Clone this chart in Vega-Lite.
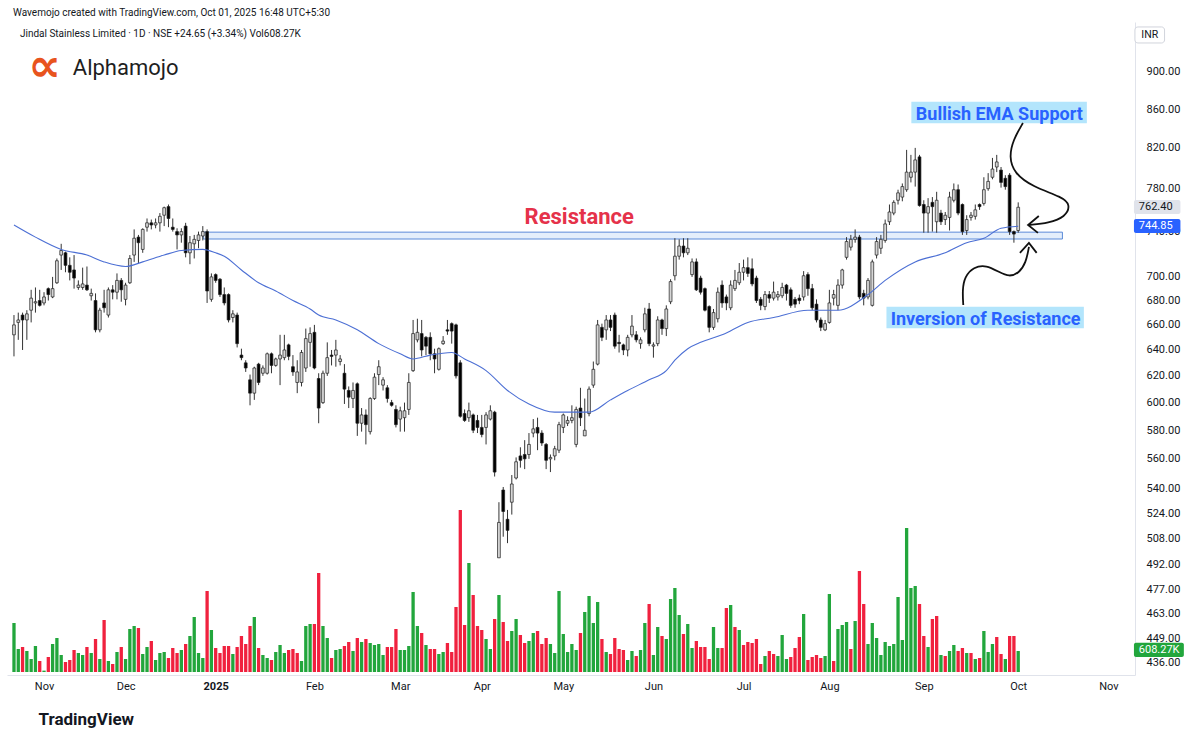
{
"$schema": "https://vega.github.io/schema/vega-lite/v6.json",
"width": 1128, "height": 653,
"autosize": {"type": "none"},
"padding": {"left": 7, "top": 22, "right": 65, "bottom": 67},
"background": "#ffffff",
"config": {"view": {"stroke": null}, "font": "Roboto",
 "axisRight": {"labelFont": "Roboto", "labelFontSize": 11, "labelColor": "#131722", "ticks": false, "tickSize": 0, "labelPadding": 11, "grid": false, "domain": true, "domainColor": "#e0e3eb", "title": null, "labelOverlap": false, "labelFlush": false}},
"datasets": {
"candles": [
{"i":0,"o":652,"h":668,"l":635,"c":660,"v":1421,"vc":"G"},
{"i":1,"o":662,"h":670,"l":648,"c":664,"v":667,"vc":"G"},
{"i":2,"o":668,"h":670,"l":640,"c":664,"v":725,"vc":"R"},
{"i":3,"o":664,"h":672,"l":648,"c":669,"v":609,"vc":"G"},
{"i":4,"o":672,"h":689,"l":662,"c":682,"v":377,"vc":"G"},
{"i":5,"o":678,"h":691,"l":670,"c":679,"v":754,"vc":"G"},
{"i":6,"o":680,"h":689,"l":675,"c":676,"v":319,"vc":"R"},
{"i":7,"o":678,"h":687,"l":676,"c":683,"v":40,"vc":"G"},
{"i":8,"o":690,"h":691,"l":680,"c":685,"v":435,"vc":"R"},
{"i":9,"o":683,"h":700,"l":682,"c":690,"v":812,"vc":"G"},
{"i":10,"o":695,"h":716,"l":694,"c":714,"v":986,"vc":"G"},
{"i":11,"o":719,"h":729,"l":706,"c":723,"v":493,"vc":"G"},
{"i":12,"o":721,"h":722,"l":704,"c":710,"v":290,"vc":"R"},
{"i":13,"o":710,"h":717,"l":697,"c":704,"v":348,"vc":"R"},
{"i":14,"o":706,"h":719,"l":690,"c":699,"v":638,"vc":"R"},
{"i":15,"o":691,"h":697,"l":689,"c":693,"v":551,"vc":"G"},
{"i":16,"o":691,"h":708,"l":689,"c":694,"v":493,"vc":"G"},
{"i":17,"o":693,"h":709,"l":688,"c":689,"v":725,"vc":"R"},
{"i":18,"o":684,"h":690,"l":680,"c":686,"v":551,"vc":"G"},
{"i":19,"o":680,"h":686,"l":654,"c":656,"v":957,"vc":"R"},
{"i":20,"o":656,"h":674,"l":654,"c":672,"v":377,"vc":"G"},
{"i":21,"o":678,"h":689,"l":670,"c":674,"v":1508,"vc":"R"},
{"i":22,"o":668,"h":691,"l":666,"c":689,"v":319,"vc":"G"},
{"i":23,"o":689,"h":693,"l":681,"c":687,"v":232,"vc":"R"},
{"i":24,"o":687,"h":703,"l":681,"c":697,"v":580,"vc":"G"},
{"i":25,"o":697,"h":699,"l":679,"c":689,"v":725,"vc":"R"},
{"i":26,"o":681,"h":695,"l":676,"c":693,"v":377,"vc":"G"},
{"i":27,"o":695,"h":719,"l":694,"c":716,"v":1247,"vc":"G"},
{"i":28,"o":719,"h":742,"l":713,"c":734,"v":1334,"vc":"G"},
{"i":29,"o":735,"h":737,"l":712,"c":730,"v":1276,"vc":"R"},
{"i":30,"o":724,"h":743,"l":721,"c":742,"v":522,"vc":"G"},
{"i":31,"o":744,"h":752,"l":740,"c":748,"v":725,"vc":"G"},
{"i":32,"o":748,"h":751,"l":742,"c":746,"v":899,"vc":"R"},
{"i":33,"o":746,"h":752,"l":743,"c":748,"v":348,"vc":"G"},
{"i":34,"o":748,"h":757,"l":740,"c":754,"v":551,"vc":"G"},
{"i":35,"o":755,"h":763,"l":745,"c":762,"v":580,"vc":"G"},
{"i":36,"o":763,"h":765,"l":744,"c":752,"v":406,"vc":"R"},
{"i":37,"o":744,"h":752,"l":740,"c":742,"v":696,"vc":"R"},
{"i":38,"o":740,"h":743,"l":724,"c":737,"v":551,"vc":"R"},
{"i":39,"o":737,"h":743,"l":730,"c":740,"v":638,"vc":"G"},
{"i":40,"o":745,"h":748,"l":717,"c":721,"v":812,"vc":"R"},
{"i":41,"o":721,"h":736,"l":711,"c":730,"v":1044,"vc":"G"},
{"i":42,"o":729,"h":737,"l":716,"c":733,"v":1595,"vc":"G"},
{"i":43,"o":732,"h":740,"l":725,"c":737,"v":551,"vc":"G"},
{"i":44,"o":736,"h":745,"l":732,"c":740,"v":406,"vc":"G"},
{"i":45,"o":740,"h":742,"l":678,"c":688,"v":2349,"vc":"R"},
{"i":46,"o":681,"h":703,"l":679,"c":700,"v":1218,"vc":"G"},
{"i":47,"o":702,"h":703,"l":695,"c":697,"v":696,"vc":"R"},
{"i":48,"o":698,"h":699,"l":683,"c":685,"v":551,"vc":"R"},
{"i":49,"o":685,"h":691,"l":676,"c":678,"v":754,"vc":"R"},
{"i":50,"o":685,"h":686,"l":662,"c":664,"v":754,"vc":"R"},
{"i":51,"o":666,"h":672,"l":662,"c":669,"v":522,"vc":"G"},
{"i":52,"o":668,"h":670,"l":642,"c":645,"v":725,"vc":"R"},
{"i":53,"o":636,"h":641,"l":632,"c":634,"v":1044,"vc":"R"},
{"i":54,"o":630,"h":632,"l":623,"c":626,"v":812,"vc":"R"},
{"i":55,"o":617,"h":621,"l":598,"c":607,"v":1334,"vc":"R"},
{"i":56,"o":607,"h":627,"l":602,"c":626,"v":1595,"vc":"G"},
{"i":57,"o":629,"h":630,"l":613,"c":615,"v":696,"vc":"R"},
{"i":58,"o":622,"h":628,"l":620,"c":626,"v":493,"vc":"G"},
{"i":59,"o":622,"h":638,"l":621,"c":637,"v":406,"vc":"G"},
{"i":60,"o":637,"h":638,"l":622,"c":628,"v":348,"vc":"R"},
{"i":61,"o":628,"h":634,"l":627,"c":633,"v":580,"vc":"G"},
{"i":62,"o":633,"h":652,"l":613,"c":636,"v":783,"vc":"G"},
{"i":63,"o":634,"h":652,"l":632,"c":640,"v":551,"vc":"G"},
{"i":64,"o":644,"h":645,"l":632,"c":635,"v":638,"vc":"R"},
{"i":65,"o":627,"h":636,"l":620,"c":623,"v":667,"vc":"R"},
{"i":66,"o":615,"h":632,"l":607,"c":623,"v":551,"vc":"R"},
{"i":67,"o":615,"h":640,"l":612,"c":638,"v":319,"vc":"G"},
{"i":68,"o":626,"h":657,"l":623,"c":649,"v":1334,"vc":"G"},
{"i":69,"o":646,"h":658,"l":627,"c":653,"v":1392,"vc":"G"},
{"i":70,"o":654,"h":660,"l":625,"c":626,"v":1392,"vc":"R"},
{"i":71,"o":618,"h":622,"l":585,"c":596,"v":2871,"vc":"R"},
{"i":72,"o":600,"h":624,"l":599,"c":622,"v":1334,"vc":"G"},
{"i":73,"o":622,"h":646,"l":620,"c":634,"v":986,"vc":"G"},
{"i":74,"o":636,"h":640,"l":628,"c":635,"v":406,"vc":"R"},
{"i":75,"o":636,"h":648,"l":627,"c":640,"v":638,"vc":"G"},
{"i":76,"o":631,"h":636,"l":628,"c":633,"v":667,"vc":"G"},
{"i":77,"o":622,"h":629,"l":599,"c":610,"v":754,"vc":"R"},
{"i":78,"o":609,"h":612,"l":596,"c":604,"v":870,"vc":"R"},
{"i":79,"o":603,"h":615,"l":596,"c":609,"v":609,"vc":"G"},
{"i":80,"o":614,"h":615,"l":576,"c":585,"v":986,"vc":"R"},
{"i":81,"o":585,"h":596,"l":579,"c":591,"v":870,"vc":"G"},
{"i":82,"o":591,"h":595,"l":570,"c":584,"v":957,"vc":"R"},
{"i":83,"o":579,"h":604,"l":577,"c":603,"v":841,"vc":"G"},
{"i":84,"o":603,"h":622,"l":602,"c":619,"v":783,"vc":"G"},
{"i":85,"o":621,"h":632,"l":613,"c":627,"v":812,"vc":"G"},
{"i":86,"o":613,"h":619,"l":609,"c":617,"v":493,"vc":"G"},
{"i":87,"o":611,"h":613,"l":600,"c":603,"v":725,"vc":"R"},
{"i":88,"o":600,"h":602,"l":597,"c":598,"v":725,"vc":"R"},
{"i":89,"o":595,"h":598,"l":582,"c":584,"v":1247,"vc":"R"},
{"i":90,"o":588,"h":597,"l":579,"c":594,"v":638,"vc":"G"},
{"i":91,"o":589,"h":600,"l":579,"c":594,"v":638,"vc":"G"},
{"i":92,"o":595,"h":622,"l":591,"c":615,"v":754,"vc":"G"},
{"i":93,"o":624,"h":664,"l":623,"c":653,"v":2320,"vc":"G"},
{"i":94,"o":648,"h":665,"l":646,"c":654,"v":1334,"vc":"G"},
{"i":95,"o":653,"h":664,"l":635,"c":640,"v":1131,"vc":"R"},
{"i":96,"o":650,"h":651,"l":636,"c":643,"v":783,"vc":"G"},
{"i":97,"o":650,"h":654,"l":632,"c":637,"v":667,"vc":"R"},
{"i":98,"o":637,"h":641,"l":622,"c":633,"v":667,"vc":"R"},
{"i":99,"o":625,"h":642,"l":624,"c":641,"v":522,"vc":"G"},
{"i":100,"o":645,"h":651,"l":644,"c":647,"v":580,"vc":"G"},
{"i":101,"o":656,"h":664,"l":652,"c":655,"v":841,"vc":"R"},
{"i":102,"o":661,"h":662,"l":645,"c":655,"v":580,"vc":"R"},
{"i":103,"o":660,"h":661,"l":618,"c":620,"v":1885,"vc":"R"},
{"i":104,"o":630,"h":632,"l":589,"c":590,"v":4698,"vc":"R"},
{"i":105,"o":592,"h":595,"l":586,"c":587,"v":1363,"vc":"R"},
{"i":106,"o":589,"h":600,"l":586,"c":594,"v":3161,"vc":"G"},
{"i":107,"o":591,"h":592,"l":578,"c":580,"v":2233,"vc":"R"},
{"i":108,"o":587,"h":591,"l":578,"c":582,"v":1334,"vc":"R"},
{"i":109,"o":582,"h":591,"l":575,"c":577,"v":1218,"vc":"R"},
{"i":110,"o":582,"h":593,"l":570,"c":591,"v":957,"vc":"G"},
{"i":111,"o":588,"h":598,"l":587,"c":594,"v":667,"vc":"G"},
{"i":112,"o":593,"h":594,"l":548,"c":551,"v":1537,"vc":"R"},
{"i":113,"o":496,"h":531,"l":496,"c":518,"v":2233,"vc":"G"},
{"i":114,"o":539,"h":541,"l":509,"c":525,"v":1450,"vc":"R"},
{"i":115,"o":520,"h":526,"l":505,"c":513,"v":899,"vc":"R"},
{"i":116,"o":531,"h":549,"l":523,"c":543,"v":1189,"vc":"G"},
{"i":117,"o":547,"h":561,"l":546,"c":558,"v":1537,"vc":"G"},
{"i":118,"o":562,"h":568,"l":554,"c":559,"v":1073,"vc":"R"},
{"i":119,"o":563,"h":573,"l":553,"c":560,"v":841,"vc":"R"},
{"i":120,"o":563,"h":578,"l":560,"c":570,"v":899,"vc":"G"},
{"i":121,"o":578,"h":588,"l":575,"c":581,"v":1131,"vc":"G"},
{"i":122,"o":582,"h":589,"l":566,"c":578,"v":1189,"vc":"R"},
{"i":123,"o":578,"h":580,"l":569,"c":571,"v":812,"vc":"R"},
{"i":124,"o":570,"h":571,"l":553,"c":559,"v":986,"vc":"R"},
{"i":125,"o":560,"h":563,"l":551,"c":561,"v":812,"vc":"G"},
{"i":126,"o":562,"h":569,"l":559,"c":567,"v":551,"vc":"G"},
{"i":127,"o":566,"h":586,"l":564,"c":584,"v":2349,"vc":"G"},
{"i":128,"o":582,"h":592,"l":578,"c":591,"v":1102,"vc":"G"},
{"i":129,"o":585,"h":590,"l":583,"c":587,"v":580,"vc":"G"},
{"i":130,"o":587,"h":598,"l":585,"c":589,"v":812,"vc":"G"},
{"i":131,"o":570,"h":597,"l":568,"c":595,"v":638,"vc":"G"},
{"i":132,"o":596,"h":611,"l":583,"c":589,"v":1131,"vc":"R"},
{"i":133,"o":576,"h":603,"l":576,"c":580,"v":1740,"vc":"G"},
{"i":134,"o":592,"h":612,"l":590,"c":610,"v":2204,"vc":"G"},
{"i":135,"o":613,"h":631,"l":611,"c":625,"v":1421,"vc":"G"},
{"i":136,"o":629,"h":664,"l":628,"c":660,"v":2030,"vc":"G"},
{"i":137,"o":658,"h":661,"l":647,"c":650,"v":957,"vc":"R"},
{"i":138,"o":656,"h":668,"l":648,"c":664,"v":580,"vc":"G"},
{"i":139,"o":664,"h":668,"l":655,"c":658,"v":522,"vc":"R"},
{"i":140,"o":668,"h":670,"l":641,"c":643,"v":986,"vc":"R"},
{"i":141,"o":646,"h":652,"l":638,"c":645,"v":667,"vc":"R"},
{"i":142,"o":644,"h":645,"l":636,"c":640,"v":638,"vc":"R"},
{"i":143,"o":640,"h":652,"l":635,"c":650,"v":348,"vc":"G"},
{"i":144,"o":652,"h":668,"l":650,"c":659,"v":609,"vc":"G"},
{"i":145,"o":652,"h":655,"l":646,"c":648,"v":464,"vc":"R"},
{"i":146,"o":645,"h":650,"l":641,"c":648,"v":638,"vc":"G"},
{"i":147,"o":656,"h":674,"l":654,"c":669,"v":1421,"vc":"G"},
{"i":148,"o":673,"h":678,"l":643,"c":645,"v":1972,"vc":"R"},
{"i":149,"o":643,"h":646,"l":634,"c":644,"v":493,"vc":"G"},
{"i":150,"o":645,"h":667,"l":643,"c":664,"v":1305,"vc":"G"},
{"i":151,"o":664,"h":665,"l":652,"c":657,"v":1044,"vc":"R"},
{"i":152,"o":657,"h":676,"l":651,"c":673,"v":957,"vc":"G"},
{"i":153,"o":679,"h":698,"l":677,"c":696,"v":2117,"vc":"G"},
{"i":154,"o":701,"h":734,"l":697,"c":718,"v":2436,"vc":"G"},
{"i":155,"o":718,"h":733,"l":715,"c":727,"v":1653,"vc":"G"},
{"i":156,"o":727,"h":734,"l":717,"c":721,"v":1102,"vc":"R"},
{"i":157,"o":721,"h":734,"l":719,"c":725,"v":1392,"vc":"G"},
{"i":158,"o":702,"h":716,"l":700,"c":713,"v":696,"vc":"G"},
{"i":159,"o":713,"h":716,"l":688,"c":689,"v":899,"vc":"R"},
{"i":160,"o":699,"h":701,"l":685,"c":687,"v":725,"vc":"R"},
{"i":161,"o":690,"h":691,"l":671,"c":672,"v":725,"vc":"R"},
{"i":162,"o":675,"h":676,"l":654,"c":658,"v":377,"vc":"R"},
{"i":163,"o":658,"h":673,"l":656,"c":670,"v":1305,"vc":"G"},
{"i":164,"o":665,"h":691,"l":662,"c":687,"v":696,"vc":"G"},
{"i":165,"o":693,"h":697,"l":674,"c":678,"v":696,"vc":"R"},
{"i":166,"o":683,"h":685,"l":672,"c":678,"v":1856,"vc":"R"},
{"i":167,"o":674,"h":697,"l":672,"c":693,"v":1943,"vc":"G"},
{"i":168,"o":690,"h":706,"l":688,"c":697,"v":1305,"vc":"R"},
{"i":169,"o":695,"h":712,"l":693,"c":704,"v":1218,"vc":"G"},
{"i":170,"o":704,"h":715,"l":697,"c":708,"v":783,"vc":"R"},
{"i":171,"o":708,"h":717,"l":700,"c":703,"v":870,"vc":"R"},
{"i":172,"o":707,"h":716,"l":692,"c":694,"v":841,"vc":"R"},
{"i":173,"o":699,"h":701,"l":678,"c":680,"v":957,"vc":"R"},
{"i":174,"o":681,"h":683,"l":672,"c":676,"v":232,"vc":"R"},
{"i":175,"o":675,"h":688,"l":672,"c":685,"v":464,"vc":"G"},
{"i":176,"o":685,"h":688,"l":678,"c":682,"v":609,"vc":"R"},
{"i":177,"o":682,"h":696,"l":680,"c":687,"v":522,"vc":"R"},
{"i":178,"o":683,"h":688,"l":680,"c":685,"v":464,"vc":"G"},
{"i":179,"o":684,"h":695,"l":682,"c":691,"v":1073,"vc":"G"},
{"i":180,"o":693,"h":694,"l":680,"c":686,"v":377,"vc":"G"},
{"i":181,"o":689,"h":691,"l":674,"c":676,"v":435,"vc":"R"},
{"i":182,"o":681,"h":683,"l":674,"c":677,"v":696,"vc":"R"},
{"i":183,"o":682,"h":685,"l":677,"c":680,"v":1015,"vc":"R"},
{"i":184,"o":683,"h":705,"l":680,"c":701,"v":1682,"vc":"G"},
{"i":185,"o":702,"h":704,"l":684,"c":690,"v":348,"vc":"R"},
{"i":186,"o":690,"h":694,"l":672,"c":674,"v":435,"vc":"R"},
{"i":187,"o":677,"h":681,"l":662,"c":664,"v":493,"vc":"R"},
{"i":188,"o":664,"h":666,"l":655,"c":658,"v":406,"vc":"R"},
{"i":189,"o":656,"h":664,"l":655,"c":661,"v":464,"vc":"G"},
{"i":190,"o":662,"h":689,"l":661,"c":678,"v":2262,"vc":"G"},
{"i":191,"o":682,"h":689,"l":676,"c":685,"v":319,"vc":"R"},
{"i":192,"o":676,"h":698,"l":672,"c":693,"v":1247,"vc":"G"},
{"i":193,"o":693,"h":707,"l":690,"c":706,"v":1363,"vc":"G"},
{"i":194,"o":717,"h":735,"l":715,"c":731,"v":1450,"vc":"G"},
{"i":195,"o":726,"h":737,"l":723,"c":733,"v":667,"vc":"R"},
{"i":196,"o":733,"h":742,"l":730,"c":735,"v":1479,"vc":"G"},
{"i":197,"o":735,"h":737,"l":681,"c":683,"v":2929,"vc":"R"},
{"i":198,"o":686,"h":689,"l":676,"c":682,"v":1972,"vc":"R"},
{"i":199,"o":683,"h":699,"l":681,"c":697,"v":812,"vc":"G"},
{"i":200,"o":676,"h":715,"l":675,"c":713,"v":1421,"vc":"G"},
{"i":201,"o":719,"h":735,"l":716,"c":731,"v":986,"vc":"G"},
{"i":202,"o":725,"h":737,"l":720,"c":733,"v":493,"vc":"G"},
{"i":203,"o":732,"h":751,"l":730,"c":747,"v":870,"vc":"G"},
{"i":204,"o":749,"h":765,"l":746,"c":758,"v":754,"vc":"G"},
{"i":205,"o":757,"h":769,"l":755,"c":767,"v":812,"vc":"G"},
{"i":206,"o":769,"h":779,"l":765,"c":776,"v":2175,"vc":"G"},
{"i":207,"o":772,"h":785,"l":768,"c":782,"v":928,"vc":"G"},
{"i":208,"o":779,"h":818,"l":777,"c":796,"v":4176,"vc":"G"},
{"i":209,"o":791,"h":813,"l":786,"c":796,"v":2436,"vc":"G"},
{"i":210,"o":796,"h":820,"l":782,"c":808,"v":2494,"vc":"G"},
{"i":211,"o":811,"h":813,"l":763,"c":764,"v":1972,"vc":"R"},
{"i":212,"o":765,"h":769,"l":739,"c":757,"v":1044,"vc":"R"},
{"i":213,"o":757,"h":771,"l":739,"c":763,"v":725,"vc":"G"},
{"i":214,"o":767,"h":772,"l":740,"c":763,"v":1537,"vc":"R"},
{"i":215,"o":749,"h":777,"l":739,"c":769,"v":1624,"vc":"R"},
{"i":216,"o":757,"h":760,"l":746,"c":749,"v":493,"vc":"G"},
{"i":217,"o":751,"h":758,"l":746,"c":755,"v":464,"vc":"R"},
{"i":218,"o":753,"h":777,"l":741,"c":772,"v":609,"vc":"G"},
{"i":219,"o":769,"h":785,"l":767,"c":779,"v":783,"vc":"G"},
{"i":220,"o":779,"h":784,"l":755,"c":757,"v":609,"vc":"R"},
{"i":221,"o":765,"h":766,"l":737,"c":740,"v":696,"vc":"R"},
{"i":222,"o":741,"h":755,"l":737,"c":751,"v":551,"vc":"G"},
{"i":223,"o":753,"h":758,"l":750,"c":755,"v":551,"vc":"R"},
{"i":224,"o":754,"h":765,"l":751,"c":760,"v":377,"vc":"G"},
{"i":225,"o":765,"h":766,"l":760,"c":763,"v":406,"vc":"R"},
{"i":226,"o":766,"h":791,"l":764,"c":779,"v":1189,"vc":"G"},
{"i":227,"o":780,"h":795,"l":778,"c":787,"v":580,"vc":"G"},
{"i":228,"o":791,"h":810,"l":789,"c":799,"v":812,"vc":"G"},
{"i":229,"o":801,"h":813,"l":796,"c":806,"v":1015,"vc":"R"},
{"i":230,"o":798,"h":801,"l":781,"c":786,"v":522,"vc":"R"},
{"i":231,"o":790,"h":793,"l":779,"c":782,"v":377,"vc":"G"},
{"i":232,"o":793,"h":795,"l":737,"c":740,"v":1044,"vc":"R"},
{"i":233,"o":740,"h":741,"l":730,"c":737.75,"v":1044,"vc":"R"},
{"i":234,"o":741,"h":767,"l":739,"c":762.4,"v":608.27,"vc":"G"}
],
"ema": [
{"i":0,"p":746},{"i":5,"p":735},{"i":11,"p":724},{"i":17,"p":719},{"i":21,"p":713},{"i":26,"p":709},{"i":30,"p":713},{"i":35,"p":719},{"i":39,"p":723},{"i":44,"p":724},{"i":47,"p":721},{"i":49,"p":718},{"i":53,"p":706},{"i":57,"p":695},{"i":61,"p":688},{"i":65,"p":680},{"i":69,"p":673},{"i":71,"p":668},{"i":75,"p":664},{"i":80,"p":656},{"i":85,"p":645},{"i":90,"p":637},{"i":93,"p":633},{"i":97,"p":636},{"i":102,"p":638},{"i":105,"p":633},{"i":110,"p":624},{"i":115,"p":609},{"i":120,"p":599},{"i":126,"p":593},{"i":134,"p":593},{"i":139,"p":602},{"i":143,"p":609},{"i":148,"p":617},{"i":152,"p":624},{"i":154,"p":632},{"i":157,"p":641},{"i":160,"p":646},{"i":165,"p":652},{"i":171,"p":662},{"i":177,"p":666},{"i":185,"p":672},{"i":192,"p":672},{"i":199,"p":685},{"i":203,"p":697},{"i":210,"p":713},{"i":217,"p":721},{"i":222,"p":730},{"i":226,"p":734},{"i":230,"p":743},{"i":234,"p":744.85}
],
"curves": [
{"g":"a1","k":1,"i":235.1,"p":845.4},{"g":"a1","k":2,"i":232.8,"p":828.0},{"g":"a1","k":3,"i":231.9,"p":810.9},{"g":"a1","k":4,"i":233.0,"p":795.2},{"g":"a1","k":5,"i":237.4,"p":781.6},{"g":"a1","k":6,"i":244.3,"p":772.1},{"g":"a1","k":7,"i":246.2,"p":764.6},{"g":"a1","k":8,"i":245.0,"p":753.4},{"g":"a1","k":9,"i":241.1,"p":747.9},{"g":"a1","k":10,"i":236.5,"p":746.0},
{"g":"a2","k":1,"i":221.2,"p":676.3},{"g":"a2","k":2,"i":221.0,"p":688.9},{"g":"a2","k":3,"i":221.5,"p":700.0},{"g":"a2","k":4,"i":223.6,"p":708.6},{"g":"a2","k":5,"i":226.6,"p":710.3},{"g":"a2","k":6,"i":229.6,"p":704.0},{"g":"a2","k":7,"i":231.9,"p":700.0},{"g":"a2","k":8,"i":234.2,"p":703.4},{"g":"a2","k":9,"i":235.8,"p":712.1},{"g":"a2","k":10,"i":236.5,"p":726.2}
],
"heads": [
{"g":"h1","k":1,"i":238.8,"p":754.3},{"g":"h1","k":2,"i":236.3,"p":746.0},{"g":"h1","k":3,"i":238.6,"p":738.8},
{"g":"h2","k":1,"i":234.4,"p":720.9},{"g":"h2","k":2,"i":236.5,"p":729.8},{"g":"h2","k":3,"i":238.3,"p":720.9}
]
},
"encoding": {
"x": {"field": "i", "type": "quantitative",
 "scale": {"domain": [-0.462, 260.05], "nice": false, "zero": false},
 "axis": {"values": [7,26,47,70,90,109,128,149,170,190,212,234,255],
  "labelExpr": "datum.value==7?'Nov':datum.value==26?'Dec':datum.value==47?'2025':datum.value==70?'Feb':datum.value==90?'Mar':datum.value==109?'Apr':datum.value==128?'May':datum.value==149?'Jun':datum.value==170?'Jul':datum.value==190?'Aug':datum.value==212?'Sep':datum.value==234?'Oct':'Nov'",
  "labelFont": "Roboto", "labelFontSize": 11, "labelColor": "#131722",
  "labelFontWeight": {"condition": {"test": "datum.value == 47", "value": "bold"}, "value": "normal"},
  "ticks": false, "tickSize": 0, "grid": false, "domainColor": "#e0e3eb", "labelPadding": 5, "labelOverlap": false, "labelFlush": false,
  "title": "TradingView", "titleFont": "Roboto", "titleFontSize": 17, "titleFontWeight": "bold", "titleColor": "#131722",
  "titleX": 31, "titleY": 49, "titleAlign": "left", "titleBaseline": "alphabetic", "titleAnchor": "start"}}
},
"layer": [
{"data": {"name": "candles"},
 "mark": {"type": "bar", "size": 3.3},
 "encoding": {
  "y": {"field": "v", "type": "quantitative", "scale": {"domain": [-87, 18850], "nice": false, "zero": false}, "axis": null},
  "y2": {"datum": 0},
  "color": {"field": "vc", "type": "nominal", "scale": {"domain": ["G", "R"], "range": ["#22a63c", "#f0213e"]}, "legend": null}
 }},
{"layer": [
 {"data": {"values": [{"i": 44.1, "i2": 244.3, "p": 739.5, "p2": 733.3}]},
  "mark": {"type": "rect", "fill": "#e4eefb", "stroke": "#5a8ad8", "strokeWidth": 1},
  "encoding": {"x2": {"field": "i2"},
   "y": {"field": "p", "type": "quantitative", "scale": {"type": "log", "domain": [429.6, 956.9], "nice": false, "zero": false}, "axis": {"orient": "right", "format": ".2f", "values": [436,449,463,477,492,508,524,540,560,580,600,620,640,660,680,700,740,780,820,860,900]}},
   "y2": {"field": "p2"}}},
 {"data": {"name": "candles"},
  "mark": {"type": "rule", "strokeWidth": 1, "color": "#333333"},
  "encoding": {
   "y": {"field": "l", "type": "quantitative", "scale": {"type": "log", "domain": [429.6, 956.9], "nice": false, "zero": false}, "axis": {"orient": "right", "format": ".2f", "values": [436,449,463,477,492,508,524,540,560,580,600,620,640,660,680,700,740,780,820,860,900]}},
   "y2": {"field": "h"}}},
 {"data": {"name": "candles"},
  "mark": {"type": "bar", "size": 2.8, "stroke": "#1e1e1e", "strokeWidth": 0.7},
  "encoding": {
   "y": {"field": "o", "type": "quantitative", "scale": {"type": "log", "domain": [429.6, 956.9], "nice": false, "zero": false}, "axis": {"orient": "right", "format": ".2f", "values": [436,449,463,477,492,508,524,540,560,580,600,620,640,660,680,700,740,780,820,860,900]}},
   "y2": {"field": "c"},
   "fill": {"condition": {"test": "datum.c >= datum.o", "value": "#d6d6d6"}, "value": "#000000"}}},
 {"data": {"name": "ema"},
  "mark": {"type": "line", "color": "#4c6fd4", "strokeWidth": 1.1, "interpolate": "monotone"},
  "encoding": {
   "y": {"field": "p", "type": "quantitative", "scale": {"type": "log", "domain": [429.6, 956.9], "nice": false, "zero": false}, "axis": {"orient": "right", "format": ".2f", "values": [436,449,463,477,492,508,524,540,560,580,600,620,640,660,680,700,740,780,820,860,900]}}}},
 {"data": {"values": [{"i": 131.7, "p": 746.7, "t": "Resistance"}]},
  "mark": {"type": "text", "font": "Roboto", "fontSize": 22, "fontWeight": "bold", "color": "#e5324a", "align": "center", "baseline": "alphabetic"},
  "encoding": {
   "y": {"field": "p", "type": "quantitative", "scale": {"type": "log", "domain": [429.6, 956.9], "nice": false, "zero": false}, "axis": {"orient": "right", "format": ".2f", "values": [436,449,463,477,492,508,524,540,560,580,600,620,640,660,680,700,740,780,820,860,900]}},
   "text": {"field": "t"}}},
 {"data": {"values": [{"i": 209.1, "i2": 250.0, "p": 867.8, "p2": 845.1}, {"i": 203.3, "i2": 249.3, "p": 674.9, "p2": 657.3}]},
  "mark": {"type": "rect", "fill": "#b3e5fc"},
  "encoding": {"x2": {"field": "i2"},
   "y": {"field": "p", "type": "quantitative", "scale": {"type": "log", "domain": [429.6, 956.9], "nice": false, "zero": false}, "axis": {"orient": "right", "format": ".2f", "values": [436,449,463,477,492,508,524,540,560,580,600,620,640,660,680,700,740,780,820,860,900]}},
   "y2": {"field": "p2"}}},
 {"data": {"values": [{"i": 229.6, "p": 848.6, "t": "Bullish EMA Support"}, {"i": 226.4, "p": 659.9, "t": "Inversion of Resistance"}]},
  "mark": {"type": "text", "font": "Roboto", "fontSize": 18, "fontWeight": "bold", "color": "#2962ff", "align": "center", "baseline": "alphabetic"},
  "encoding": {
   "y": {"field": "p", "type": "quantitative", "scale": {"type": "log", "domain": [429.6, 956.9], "nice": false, "zero": false}, "axis": {"orient": "right", "format": ".2f", "values": [436,449,463,477,492,508,524,540,560,580,600,620,640,660,680,700,740,780,820,860,900]}},
   "text": {"field": "t"}}},
 {"data": {"name": "curves"},
  "mark": {"type": "line", "color": "#111111", "strokeWidth": 1.8, "interpolate": "basis"},
  "encoding": {
   "y": {"field": "p", "type": "quantitative", "scale": {"type": "log", "domain": [429.6, 956.9], "nice": false, "zero": false}, "axis": {"orient": "right", "format": ".2f", "values": [436,449,463,477,492,508,524,540,560,580,600,620,640,660,680,700,740,780,820,860,900]}},
   "detail": {"field": "g"}, "order": {"field": "k"}}},
 {"data": {"name": "heads"},
  "mark": {"type": "line", "color": "#111111", "strokeWidth": 1.8},
  "encoding": {
   "y": {"field": "p", "type": "quantitative", "scale": {"type": "log", "domain": [429.6, 956.9], "nice": false, "zero": false}, "axis": {"orient": "right", "format": ".2f", "values": [436,449,463,477,492,508,524,540,560,580,600,620,640,660,680,700,740,780,820,860,900]}},
   "detail": {"field": "g"}, "order": {"field": "k"}}},
 {"data": {"values": [
   {"i": -0.23, "p": 964.0, "t": "Wavemojo created with TradingView.com, Oct 01, 2025 16:48 UTC+5:30"},
   {"i": 1.39, "p": 939.8, "t": "Jindal Stainless Limited · 1D · NSE  +24.65 (+3.34%)  Vol608.27K"}]},
  "mark": {"type": "text", "font": "Roboto", "fontSize": 10, "color": "#131722", "align": "left", "baseline": "alphabetic"},
  "encoding": {
   "y": {"field": "p", "type": "quantitative", "scale": {"type": "log", "domain": [429.6, 956.9], "nice": false, "zero": false}, "axis": {"orient": "right", "format": ".2f", "values": [436,449,463,477,492,508,524,540,560,580,600,620,640,660,680,700,740,780,820,860,900]}},
   "text": {"field": "t"}}},
 {"data": {"values": [{"i": 13.7, "p": 896.7, "t": "Alphamojo"}]},
  "mark": {"type": "text", "font": "Roboto", "fontSize": 22, "color": "#1e1e1e", "align": "left", "baseline": "alphabetic"},
  "encoding": {
   "y": {"field": "p", "type": "quantitative", "scale": {"type": "log", "domain": [429.6, 956.9], "nice": false, "zero": false}, "axis": {"orient": "right", "format": ".2f", "values": [436,449,463,477,492,508,524,540,560,580,600,620,640,660,680,700,740,780,820,860,900]}},
   "text": {"field": "t"}}},
 {"data": {"values": [{"i": 7.16, "p": 890.5, "t": "∝"}]},
  "mark": {"type": "text", "font": "DejaVu Sans", "fontSize": 46, "fontWeight": "bold", "color": "#e8541e", "align": "center", "baseline": "alphabetic"},
  "encoding": {
   "y": {"field": "p", "type": "quantitative", "scale": {"type": "log", "domain": [429.6, 956.9], "nice": false, "zero": false}, "axis": {"orient": "right", "format": ".2f", "values": [436,449,463,477,492,508,524,540,560,580,600,620,640,660,680,700,740,780,820,860,900]}},
   "text": {"field": "t"}}},
 {"data": {"values": [
   {"i": 260.97, "i2": 271.8, "p": 769.3, "p2": 756.2, "k": "gray"},
   {"i": 260.97, "i2": 271.8, "p": 751.5, "p2": 738.8, "k": "blue"},
   {"i": 260.97, "i2": 272.6, "p": 446.9, "p2": 439.2, "k": "green"}]},
  "mark": {"type": "rect", "cornerRadius": 2},
  "encoding": {"x2": {"field": "i2"},
   "y": {"field": "p", "type": "quantitative", "scale": {"type": "log", "domain": [429.6, 956.9], "nice": false, "zero": false}, "axis": {"orient": "right", "format": ".2f", "values": [436,449,463,477,492,508,524,540,560,580,600,620,640,660,680,700,740,780,820,860,900]}},
   "y2": {"field": "p2"},
   "fill": {"field": "k", "type": "nominal", "scale": {"domain": ["gray", "blue", "green"], "range": ["#e0e3eb", "#2962ff", "#22a63c"]}, "legend": null}}},
 {"data": {"values": [
   {"i": 262.1, "p": 762.4, "t": "762.40", "k": "gray"},
   {"i": 262.1, "p": 744.85, "t": "744.85", "k": "blue"},
   {"i": 262.1, "p": 443.0, "t": "608.27K", "k": "green"}]},
  "mark": {"type": "text", "font": "Roboto", "fontSize": 11, "align": "left", "baseline": "middle"},
  "encoding": {
   "y": {"field": "p", "type": "quantitative", "scale": {"type": "log", "domain": [429.6, 956.9], "nice": false, "zero": false}, "axis": {"orient": "right", "format": ".2f", "values": [436,449,463,477,492,508,524,540,560,580,600,620,640,660,680,700,740,780,820,860,900]}},
   "text": {"field": "t"},
   "color": {"condition": {"test": "datum.k == 'gray'", "value": "#131722"}, "value": "#ffffff"}}},
 {"data": {"values": [{"i": 261.2, "i2": 268.1, "p": 951.1, "p2": 932.6}]},
  "mark": {"type": "rect", "fill": "#ffffff", "stroke": "#d1d4dc", "strokeWidth": 1, "cornerRadius": 3},
  "encoding": {"x2": {"field": "i2"},
   "y": {"field": "p", "type": "quantitative", "scale": {"type": "log", "domain": [429.6, 956.9], "nice": false, "zero": false}, "axis": {"orient": "right", "format": ".2f", "values": [436,449,463,477,492,508,524,540,560,580,600,620,640,660,680,700,740,780,820,860,900]}},
   "y2": {"field": "p2"}}},
 {"data": {"values": [{"i": 264.65, "p": 941.8, "t": "INR"}]},
  "mark": {"type": "text", "font": "Roboto", "fontSize": 10.5, "color": "#131722", "align": "center", "baseline": "middle"},
  "encoding": {
   "y": {"field": "p", "type": "quantitative", "scale": {"type": "log", "domain": [429.6, 956.9], "nice": false, "zero": false}, "axis": {"orient": "right", "format": ".2f", "values": [436,449,463,477,492,508,524,540,560,580,600,620,640,660,680,700,740,780,820,860,900]}},
   "text": {"field": "t"}}}
]}
],
"resolve": {"scale": {"y": "independent"}}
}
